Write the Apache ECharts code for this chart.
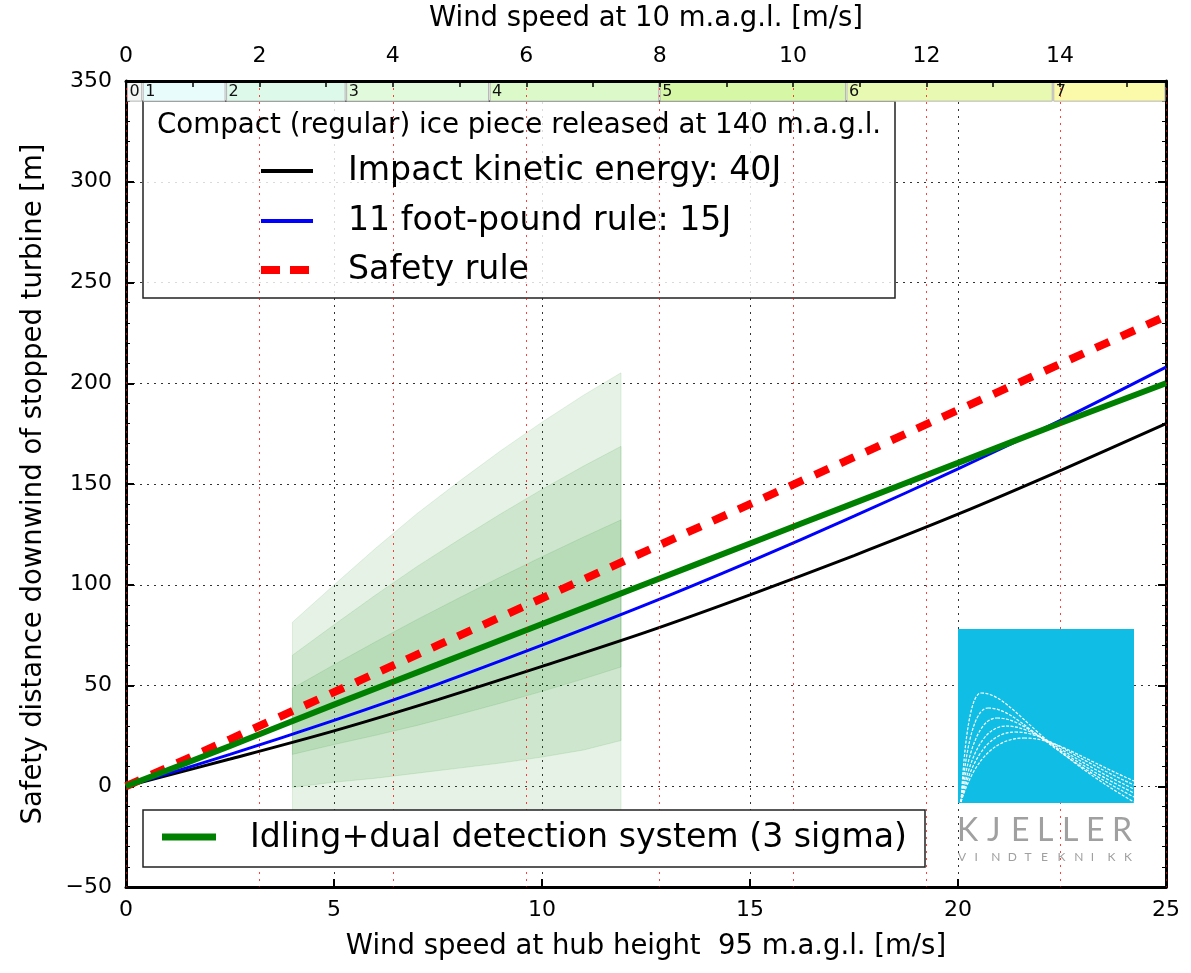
<!DOCTYPE html>
<html><head><meta charset="utf-8">
<script src="https://cdn.jsdelivr.net/npm/echarts@6/dist/echarts.min.js"></script>
<style>html,body{margin:0;padding:0;background:#fff}#c{width:1191px;height:973px}</style>
</head><body><div id="c"></div>
<script>
// ---- data ----
const hubSpeed      = [0, 2.5, 5, 7.5, 10, 12.5, 15, 17.5, 20, 22.5, 25];
const impact40J     = [0, 13.5, 27.5, 43, 59.5, 76.5, 95, 114.5, 135, 157, 180];
const footPound15J  = [0, 15.8, 32.7, 50.7, 70, 90.1, 111.5, 134, 157.5, 182, 208];
const safetyRule    = [0, 23.3, 46.7, 70, 93.3, 116.7, 140, 163.3, 186.7, 210, 233.3];
const idlingDual    = [0, 20, 40.5, 60.5, 80.5, 100.5, 120.5, 140.5, 160.5, 180.5, 200];

const bandSpeed = [4, 5, 6, 7, 8, 9, 10, 11, 11.9];
const upper3 = [81.4, 99.9, 118.1, 135.4, 151.2, 166.4, 180.7, 194.1, 205.2];
const upper2 = [65.0, 80.1, 94.9, 109.1, 122.3, 135.1, 147.3, 158.9, 168.7];
const upper1 = [48.6, 60.3, 71.7, 82.8, 93.4, 103.8, 113.9, 123.7, 132.2];
const lower1 = [15.8, 20.7, 25.3, 30.2, 35.6, 41.2, 47.1, 53.3, 59.2];
const lower2 = [-0.5, 2.0, 4.0, 6.5, 9.0, 11.5, 14.5, 18.0, 22.7];
const lower3 = [-17.0, -18.9, -21.1, -22.4, -22.2, -21.4, -19.7, -17.1, -13.8];

const beaufortLabels = ['0', '1', '2', '3', '4', '5', '6', '7'];
const beaufortFrom   = [0, 0.25, 1.5, 3.3, 5.45, 8.0, 10.8, 13.9];
const beaufortTo     = [0.25, 1.5, 3.3, 5.45, 8.0, 10.8, 13.9, 15.59];

const seriesNames = ['Impact kinetic energy: 40J', '11 foot-pound rule: 15J', 'Safety rule',
                     'Idling+dual detection system (3 sigma)'];
const legendTitle = 'Compact (regular) ice piece released at 140 m.a.g.l.';

// ---- styles ----
const FONT = '"DejaVu Sans", sans-serif';
const beaufortColors = ['#f4f6f6', '#e8fcfc', '#dcf9ea', '#e0fadb', '#dbf9c9', '#d6f8a6', '#e8f9b2', '#fafaaa'];

const chart = echarts.init(document.getElementById('c'), null, {renderer: 'canvas'});

function pairs(xs, ys) { return xs.map((x, i) => [x, ys[i]]); }

const bands = [[lower3, upper3], [lower2, upper2], [lower1, upper1]];
const bandSeries = bands.map((b, k) => ({
  type: 'custom', xAxisIndex: 0, yAxisIndex: 0, z: 1, silent: true,
  data: bandSpeed.map((x, j) => [x, b[0][j], b[1][j]]),
  encode: {x: 0, y: [1, 2]},
  renderItem: function (params, api) {
    if (params.dataIndex !== 0) return null;
    const pts = [];
    for (let j = 0; j < bandSpeed.length; j++) pts.push(api.coord([bandSpeed[j], b[1][j]]));
    for (let j = bandSpeed.length - 1; j >= 0; j--) pts.push(api.coord([bandSpeed[j], b[0][j]]));
    return {type: 'polygon', shape: {points: pts},
      style: {fill: 'rgba(0,128,0,0.1)', stroke: 'rgba(0,128,0,0.1)', lineWidth: 1}};
  }
}));

const beaufortSeries = {
  type: 'custom', xAxisIndex: 1, yAxisIndex: 0, z: 4, silent: true,
  data: beaufortLabels.map((l, i) => [beaufortFrom[i], beaufortTo[i], l]),
  encode: {x: [0, 1]},
  renderItem: function (params, api) {
    const i = params.dataIndex;
    const p0 = api.coord([api.value(0), 350]);
    const p1 = api.coord([api.value(1), 340]);
    const x0 = p0[0] + (i === 0 ? 1.5 : 0.5);
    return {type: 'group', children: [
      {type: 'rect', shape: {x: x0, y: p0[1] + 1.5, width: p1[0] - x0 - 1, height: p1[1] - p0[1] - 1.5},
        style: {fill: beaufortColors[i], stroke: '#b4b4b4', lineWidth: 1}},
      {type: 'text', x: x0 + 2, y: (p0[1] + p1[1]) / 2 + 1,
        style: {text: api.value(2) + '', fill: '#111', font: '16px ' + FONT,
          align: 'left', verticalAlign: 'middle', textAlign: 'left', textVerticalAlign: 'middle'}}
    ]};
  }
};

const lineSeries = [
  {name: seriesNames[0], type: 'line', data: pairs(hubSpeed, impact40J), showSymbol: false, smooth: 0.3,
    lineStyle: {color: '#000', width: 3}, z: 3},
  {name: seriesNames[1], type: 'line', data: pairs(hubSpeed, footPound15J), showSymbol: false, smooth: 0.3,
    lineStyle: {color: '#0000ff', width: 3}, z: 3},
  {name: seriesNames[2], type: 'line', data: pairs(hubSpeed, safetyRule), showSymbol: false,
    lineStyle: {color: '#ff0000', width: 8, type: [15, 13], cap: 'butt'}, z: 3},
  {name: seriesNames[3], type: 'line', data: pairs(hubSpeed, idlingDual), showSymbol: false, smooth: 0.3,
    lineStyle: {color: '#008000', width: 6}, z: 3}
];

const frame = {show: true, onZero: false, lineStyle: {color: '#000', width: 3}};
const blackGrid = {show: true, lineStyle: {color: '#333', width: 1, type: [2, 5]}};

function txt(t, x, y, size, z) {
  return {type: 'text', x: x, y: y, z: z,
    style: {text: t, fill: '#000', font: size + 'px ' + FONT,
      align: 'left', verticalAlign: 'middle', textAlign: 'left', textVerticalAlign: 'middle'}};
}

// logo curves (decoration)
const logoPeaks = [[981, 693, 802], [988, 708, 797], [997, 718, 793], [1006, 726, 789], [1015, 732, 785], [1024, 738, 781]];
const logoCurves = [];
logoPeaks.forEach(p => {
  const [px, py, ey] = p;
  const st = {fill: null, stroke: '#fff', lineWidth: 1.2, lineDash: [3, 1.5]};
  logoCurves.push({type: 'bezierCurve', z: 101, shape: {x1: 961, y1: 802,
    cpx1: 961 + (px - 961) * 0.25, cpy1: py + (802 - py) * 0.2, cpx2: px - (px - 961) * 0.35, cpy2: py, x2: px, y2: py}, style: st});
  logoCurves.push({type: 'bezierCurve', z: 101, shape: {x1: px, y1: py,
    cpx1: px + 30, cpy1: py, cpx2: px + 50, cpy2: (py + ey) / 2 - 5, x2: 1134, y2: ey}, style: st});
});
const kjeller = 'KJELLER'.split('');
const kjellerX = [957, 987, 1011, 1037, 1062, 1086, 1112];
const vind = 'VINDTEKNIKK'.split('');

const graphics = [
  // legend 1
  {type: 'rect', z: 3, shape: {x: 143, y: 101, width: 752, height: 197},
    style: {fill: 'rgba(255,255,255,0.82)', stroke: '#222', lineWidth: 1.5}},
  txt(legendTitle, 157, 126, 27.7, 6),
  {type: 'line', z: 6, shape: {x1: 261, y1: 171, x2: 313, y2: 171}, style: {stroke: '#000', lineWidth: 4}},
  {type: 'line', z: 6, shape: {x1: 261, y1: 221, x2: 313, y2: 221}, style: {stroke: '#0000ff', lineWidth: 4}},
  {type: 'line', z: 6, shape: {x1: 261, y1: 270, x2: 313, y2: 270}, style: {stroke: '#ff0000', lineWidth: 8, lineDash: [19, 10]}},
  txt(seriesNames[0], 348, 171, 33.2, 6),
  txt(seriesNames[1], 348, 221, 33.2, 6),
  txt(seriesNames[2], 348, 270, 33.2, 6),
  // legend 2
  {type: 'rect', z: 10, shape: {x: 143, y: 810, width: 782, height: 57},
    style: {fill: '#fff', stroke: '#222', lineWidth: 1.5}},
  {type: 'line', z: 11, shape: {x1: 162, y1: 837, x2: 216, y2: 837}, style: {stroke: '#008000', lineWidth: 7}},
  txt(seriesNames[3], 250, 838, 33.2, 11),
  // logo
  {type: 'rect', z: 100, shape: {x: 958, y: 629, width: 176, height: 174}, style: {fill: '#10bde4'}},
  ...logoCurves,
  ...kjeller.map((ch, i) => ({type: 'text', z: 101, x: kjellerX[i], y: 831,
    style: {text: ch, fill: '#a0a0a0', font: '32px Lato, ' + FONT, align: 'left', verticalAlign: 'middle', textAlign: 'left', textVerticalAlign: 'middle'}})),
  ...vind.map((ch, i) => ({type: 'text', z: 101, x: 958 + i * 16.6, y: 857,
    style: {text: ch, fill: '#a0a0a0', font: '12px Lato, ' + FONT, align: 'left', verticalAlign: 'middle', textAlign: 'left', textVerticalAlign: 'middle'}}))
];

chart.setOption({
  animation: false,
  backgroundColor: '#fff',
  textStyle: {fontFamily: FONT},
  grid: {left: 126, top: 80, width: 1040, height: 807, show: false},
  xAxis: [
    {type: 'value', position: 'bottom', min: 0, max: 25, interval: 5, z: 0,
      axisLine: frame,
      axisTick: {show: true, inside: true, length: 8, lineStyle: {color: '#000', width: 2}},
      axisLabel: {fontSize: 22, color: '#000', margin: 12, fontFamily: FONT},
      splitLine: blackGrid,
      name: 'Wind speed at hub height  95 m.a.g.l. [m/s]', nameLocation: 'middle', nameGap: 46,
      nameTextStyle: {fontSize: 27.5, color: '#000', fontFamily: FONT}},
    {type: 'value', position: 'top', min: 0, max: 15.59, interval: 2, z: 5,
      axisLine: frame,
      axisTick: {show: true, inside: true, length: 6, lineStyle: {color: '#000', width: 1.5}},
      minorTick: {show: true, splitNumber: 2, length: 6, lineStyle: {color: '#000', width: 1.5}},
      axisLabel: {fontSize: 22, color: '#000', margin: 14, showMaxLabel: false, fontFamily: FONT},
      splitLine: {show: true, lineStyle: {color: 'rgba(255,0,0,0.75)', width: 1, type: [2, 5]}},
      name: 'Wind speed at 10 m.a.g.l. [m/s]', nameLocation: 'middle', nameGap: 48,
      nameTextStyle: {fontSize: 27.5, color: '#000', fontFamily: FONT}}
  ],
  yAxis: [
    {type: 'value', position: 'left', min: -50, max: 350, interval: 50, z: 0,
      axisLine: frame,
      axisTick: {show: true, inside: true, length: 8, lineStyle: {color: '#000', width: 2}},
      minorTick: {show: true, splitNumber: 5, length: 4, lineStyle: {color: '#000', width: 1}},
      axisLabel: {fontSize: 22, color: '#000', margin: 14, fontFamily: FONT,
        formatter: v => (v < 0 ? '\u2212' + Math.abs(v) : '' + v)},
      splitLine: blackGrid,
      name: 'Safety distance downwind of stopped turbine [m]', nameLocation: 'middle', nameGap: 78,
      nameTextStyle: {fontSize: 27.5, color: '#000', fontFamily: FONT}},
    {type: 'value', position: 'right', min: -50, max: 350, interval: 50, z: 0,
      axisLine: frame,
      axisTick: {show: true, inside: true, length: 8, lineStyle: {color: '#000', width: 2}},
      minorTick: {show: true, splitNumber: 5, length: 4, lineStyle: {color: '#000', width: 1}},
      axisLabel: {show: false}, splitLine: {show: false}}
  ],
  series: [...bandSeries, ...lineSeries, beaufortSeries],
  graphic: {elements: graphics}
});
</script>
</body></html>
